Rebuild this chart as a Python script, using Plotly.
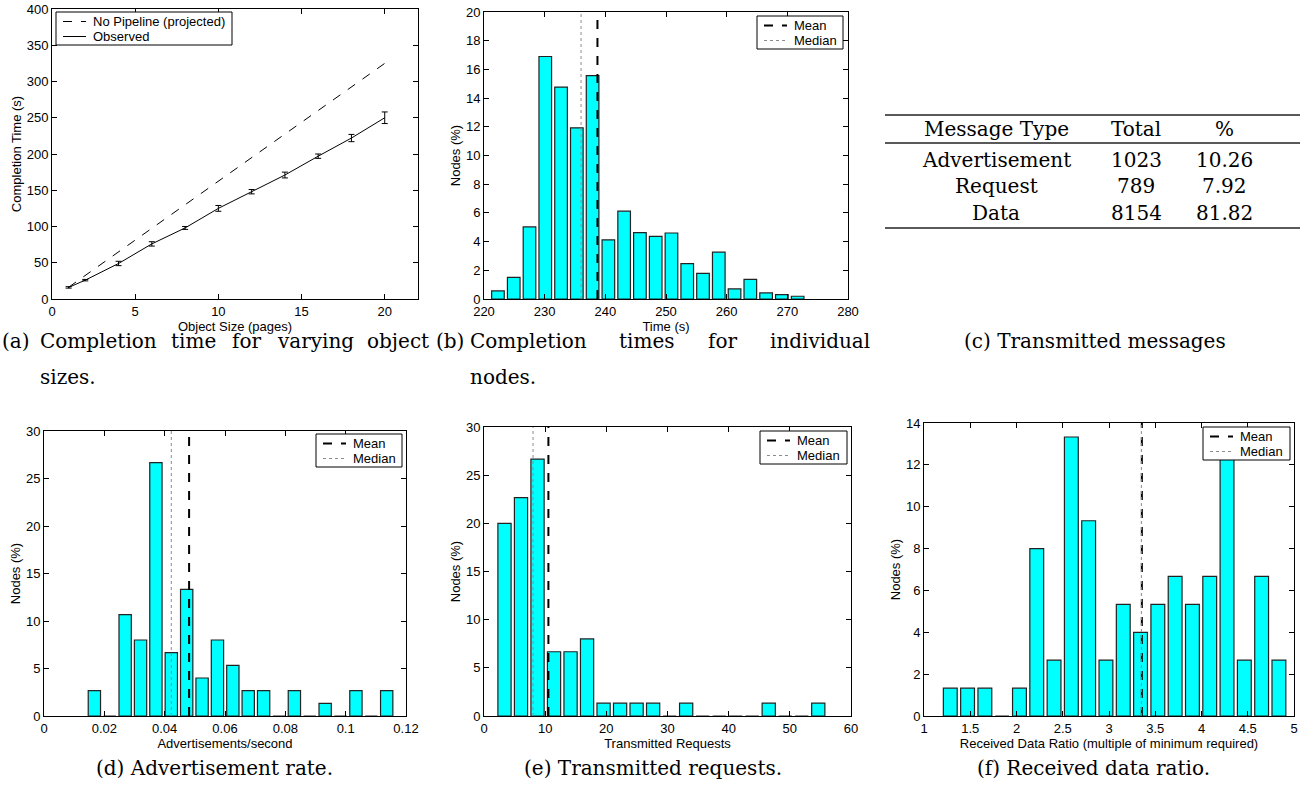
import plotly.graph_objects as go

# figure fills the 1302x785 page; the body margin is removed by a post-script
W, H = 1302, 785

# ---------------- data ----------------
# (a) completion time vs object size
obj_size = [1, 2, 4, 6, 8, 10, 12, 14, 16, 18, 20]
observed = [16, 26, 49, 76, 98, 125, 148, 171, 197, 222, 250]
observed_err = [1, 1, 3, 3, 2, 4, 3, 4, 3, 5, 8]
projected = [16.25, 32.5, 65, 97.5, 130, 162.5, 195, 227.5, 260, 292.5, 325]

# (b) completion times for individual nodes
time_bins = [222.3, 224.9, 227.5, 230.1, 232.7, 235.3, 237.9, 240.5, 243.1, 245.7,
             248.3, 250.9, 253.5, 256.1, 258.7, 261.3, 263.9, 266.5, 269.1, 271.7]
time_pct = [0.56, 1.51, 5.02, 16.9, 14.77, 11.93, 15.56, 4.12, 6.12, 4.63,
            4.37, 4.6, 2.47, 1.79, 3.26, 0.70, 1.37, 0.42, 0.30, 0.19]
time_mean, time_median = 238.7, 236.0

# (c) transmitted messages
table_header = ["Message Type", "Total", "%"]
msg_types = ["Advertisement", "Request", "Data"]
msg_totals = ["1023", "789", "8154"]
msg_pcts = ["10.26", "7.92", "81.82"]

# (d) advertisement rate
adv_bins = [0.0167, 0.0218, 0.0269, 0.0320, 0.0371, 0.0422, 0.0473, 0.0524, 0.0575, 0.0626,
            0.0677, 0.0728, 0.0779, 0.0830, 0.0881, 0.0932, 0.0983, 0.1034, 0.1085, 0.1136]
adv_pct = [2.67, 0, 10.67, 8.0, 26.67, 6.67, 13.33, 4.0, 8.0, 5.33,
           2.67, 2.67, 0, 2.67, 0, 1.33, 0, 2.67, 0, 2.67]
adv_mean, adv_median = 0.0481, 0.0422

# (e) transmitted requests
req_bins = [3.35, 6.05, 8.75, 11.45, 14.15, 16.85, 19.55, 22.25, 24.95, 27.65,
            30.35, 33.05, 35.75, 38.45, 41.15, 43.85, 46.55, 49.25, 51.95, 54.65]
req_pct = [20.0, 22.67, 26.67, 6.67, 6.67, 8.0, 1.33, 1.33, 1.33, 1.33,
           0, 1.33, 0, 0, 0, 0, 1.33, 0, 0, 1.33]
req_mean, req_median = 10.53, 8.02

# (f) received data ratio
ratio_bins = [1.284, 1.471, 1.658, 1.845, 2.032, 2.219, 2.406, 2.593, 2.780, 2.967,
              3.154, 3.341, 3.528, 3.715, 3.902, 4.089, 4.276, 4.463, 4.650, 4.837]
ratio_pct = [1.33, 1.33, 1.33, 0, 1.33, 8.0, 2.67, 13.33, 9.33, 2.67,
             5.33, 4.0, 5.33, 6.67, 5.33, 6.67, 13.33, 2.67, 6.67, 2.67]
ratio_mean, ratio_median = 3.355, 3.35

# ---------------- helpers (page pixel -> paper fraction) ----------------
def px(x):
    return x / W

def py(y):
    return 1 - y / H

SANS = "Liberation Sans, Arial, sans-serif"
SERIF = "DejaVu Serif, serif"
BAR_FILL = "#00FFFF"
BAR_LINE = "#222222"
MEAN_STYLE = dict(color="black", width=2, dash="dash")
MEDIAN_STYLE = dict(color="#8c8c8c", width=1, dash="dot")

fig = go.Figure()

def axis_style(domain, rng, dtick, title, anchor, standoff=2):
    return dict(
        domain=domain, range=rng, dtick=dtick, anchor=anchor, automargin=False,
        showline=True, linecolor="black", linewidth=1, mirror="ticks",
        ticks="inside", ticklen=5, tickcolor="black", tickwidth=1,
        showgrid=False, zeroline=False,
        tickfont=dict(family=SANS, size=13, color="black"),
        title=dict(text=title, font=dict(family=SANS, size=13, color="black"), standoff=standoff),
    )

# (a)
fig.add_trace(go.Scatter(x=obj_size, y=projected, mode="lines",
                         line=dict(color="black", width=1, dash="dash"),
                         name="No Pipeline (projected)", xaxis="x", yaxis="y"))
fig.add_trace(go.Scatter(x=obj_size, y=observed, mode="lines",
                         line=dict(color="black", width=1),
                         error_y=dict(type="data", array=observed_err, visible=True,
                                      color="black", thickness=1, width=3),
                         name="Observed", xaxis="x", yaxis="y"))

# histograms with mean / median markers
def hist_panel(xa, ya, centers, vals, mean, median, ytop):
    fig.add_trace(go.Bar(x=centers, y=vals,
                         marker=dict(color=BAR_FILL, line=dict(color=BAR_LINE, width=1.2)),
                         name="Nodes", xaxis=xa, yaxis=ya))
    fig.add_trace(go.Scatter(x=[mean, mean], y=[0, ytop], mode="lines",
                             line=MEAN_STYLE, name="Mean", xaxis=xa, yaxis=ya))
    fig.add_trace(go.Scatter(x=[median, median], y=[0, ytop], mode="lines",
                             line=MEDIAN_STYLE, name="Median", xaxis=xa, yaxis=ya))

hist_panel("x2", "y2", time_bins, time_pct, time_mean, time_median, 20)
hist_panel("x3", "y3", adv_bins, adv_pct, adv_mean, adv_median, 30)
hist_panel("x4", "y4", req_bins, req_pct, req_mean, req_median, 30)
hist_panel("x5", "y5", ratio_bins, ratio_pct, ratio_mean, ratio_median, 14)

layout = dict(
    width=W, height=H, autosize=False,
    margin=dict(l=0, r=0, t=0, b=0, pad=0, autoexpand=False),
    paper_bgcolor="white", plot_bgcolor="white",
    bargap=0.2, showlegend=False,
    font=dict(family=SANS, size=13, color="black"),
)
layout["xaxis"] = axis_style([px(52), px(418)], [0, 22], 5, "Object Size (pages)", "y", 0)
layout["yaxis"] = axis_style([py(299), py(9)], [0, 400], 50, "Completion Time (s)", "x")
layout["xaxis2"] = axis_style([px(484), px(848)], [220, 280], 10, "Time (s)", "y2", 0)
layout["yaxis2"] = axis_style([py(299), py(12)], [0, 20], 2, "Nodes (%)", "x2")
layout["xaxis3"] = axis_style([px(44), px(406)], [0, 0.12], 0.02, "Advertisements/second", "y3")
layout["yaxis3"] = axis_style([py(716), py(431)], [0, 30], 5, "Nodes (%)", "x3")
layout["xaxis4"] = axis_style([px(484), px(851)], [0, 60], 10, "Transmitted Requests", "y4")
layout["yaxis4"] = axis_style([py(716), py(427)], [0, 30], 5, "Nodes (%)", "x4")
layout["xaxis5"] = axis_style([px(924), px(1294)], [1, 5], 0.5,
                              "Received Data Ratio (multiple of minimum required)", "y5")
layout["yaxis5"] = axis_style([py(716), py(423)], [0, 14], 2, "Nodes (%)", "x5")
fig.update_layout(**layout)

# ---------------- MATLAB-style boxed legends ----------------
def draw_legend(left, top, right, entries):
    bottom = top + 33
    fig.add_shape(type="rect", xref="paper", yref="paper", layer="above",
                  x0=px(left), x1=px(right), y0=py(bottom), y1=py(top),
                  fillcolor="white", line=dict(color="black", width=1))
    for i, (label, style) in enumerate(entries):
        yy = top + 9.5 + 15 * i
        fig.add_shape(type="line", xref="paper", yref="paper", layer="above",
                      x0=px(left + 7), x1=px(left + 30), y0=py(yy), y1=py(yy), line=style)
        fig.add_annotation(x=px(left + 35), y=py(yy), xref="paper", yref="paper", text=label,
                           showarrow=False, xanchor="left", yanchor="middle",
                           font=dict(family=SANS, size=13, color="black"))

draw_legend(56, 12, 232, [("No Pipeline (projected)", dict(color="black", width=1, dash="dash")),
                          ("Observed", dict(color="black", width=1))])
mm = [("Mean", MEAN_STYLE), ("Median", MEDIAN_STYLE)]
draw_legend(757, 16, 843, mm)
draw_legend(316, 434, 402, mm)
draw_legend(760, 431, 847, mm)
draw_legend(1203, 427, 1290, mm)

# ---------------- table (c) ----------------
for yy in [115, 143, 228]:
    fig.add_shape(type="line", xref="paper", yref="paper",
                  x0=px(885), x1=px(1300), y0=py(yy), y1=py(yy),
                  line=dict(color="#222222", width=1.4))

col_x = [996, 1136, 1224]
tfont = dict(family=SERIF, size=20, color="black")
for cx, txt in zip(col_x, table_header):
    fig.add_annotation(x=px(cx), y=py(129), xref="paper", yref="paper", text=txt,
                       showarrow=False, xanchor="center", yanchor="middle", font=tfont)
for ry, row in zip([160, 186, 213], zip(msg_types, msg_totals, msg_pcts)):
    for cx, txt in zip(col_x, row):
        fig.add_annotation(x=px(cx), y=py(ry), xref="paper", yref="paper", text=txt,
                           showarrow=False, xanchor="center", yanchor="middle", font=tfont)

# ---------------- captions ----------------
cfont = dict(family=SERIF, size=20, color="black")

def word(txt, x, y, anchor="left"):
    fig.add_annotation(x=px(x), y=py(y), xref="paper", yref="paper", text=txt,
                       showarrow=False, xanchor=anchor, yanchor="middle", font=cfont,
                       borderpad=0)

# justified two-line captions with hanging indent
for txt, x in [("(a)", 1), ("Completion", 39), ("time", 170), ("for", 231),
               ("varying", 276), ("object", 366)]:
    word(txt, x, 341)
word("sizes.", 39, 377)
for txt, x in [("(b)", 435), ("Completion", 469), ("times", 618), ("for", 707),
               ("individual", 769)]:
    word(txt, x, 341)
word("nodes.", 469, 377)
word("(c) Transmitted messages", 1095, 341, "center")
word("(d) Advertisement rate.", 214, 768, "center")
word("(e) Transmitted requests.", 653, 768, "center")
word("(f) Received data ratio.", 1093, 768, "center")

fig.write_html("out.html", config={"displayModeBar": False},
               post_script="document.body.style.margin='0';")
